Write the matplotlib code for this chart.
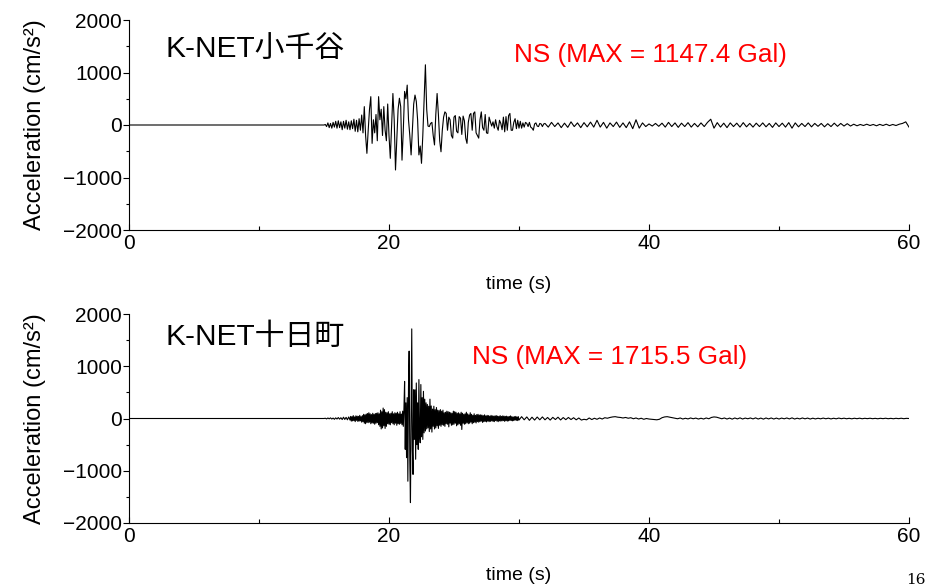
import numpy as np
import matplotlib
matplotlib.use('Agg')
import matplotlib.pyplot as plt
from matplotlib.ticker import MultipleLocator

plt.rcParams['font.family'] = ['Liberation Sans', 'Noto Sans CJK JP']

# ---------------- data ----------------
station_names = ['K-NET小千谷', 'K-NET十日町']
component_labels = ['NS (MAX = 1147.4 Gal)', 'NS (MAX = 1715.5 Gal)']

# K-NET Ojiya, NS acceleration (cm/s^2)
ojiya_main_start, ojiya_main_dt = 15.0, 0.1
ojiya_main = [
    0, 10, -30, 40, -50, 30, -60, 50, -40, 70,
    -60, 80, -50, 60, -90, 70, -60, 90, -80, 60,
    -90, 80, -70, 110, -120, 90, -130, 120, -100, 190,
    -150, 350, -200, -540, -100, 300, 540, -350, 100, -150,
    200, -300, 540, 100, 300, -200, 350, -100, -300, 400,
    -200, -635, 0, 600, 100, -857, -300, 300, 510, 350,
    -670, -100, 640, 500, 760, 100, -200, -570, -100, 400,
    570, 450, 100, -570, -400, -730, -200, 500, 1147, 300,
    -20, -30, 30, 50, -200, -380, 200, 600, 200, -300,
    -510, -100, 150, 250, 220, -100, 150, 100, -200, -250,
    150, 180, -120, -150, 160, 130, -180, 170, 80, -250,
    -350, 50, 190, 220, -100, 220, 250, -150, -200, -250,
    100, 250, -50, -100, 200, -150, -160, 150, 60, -20,
    60, -60, 100, -30, -100, 90, 30, -90, 150, -130,
    160, -100, 180, 220, -100, -100, 50, 120, -70, 90,
    -60, 70, -60, 40, -40, 50, 30, -30, 50, -40,
    -60, -100, 20, 40, -20, -30, 30, 20, -30, 20,
]
ojiya_coda_start, ojiya_coda_dt = 32.0, 0.25
ojiya_coda = [
    30, -40, 50, -30, 40, -50, 35, -45, 60, -30, 40, -50,
    45, -35, 55, -40, 90, -40, 50, -60, 40, -30, 55, -45,
    40, -50, 60, -70, 100, -60, 40, -30, 20, -20, 30, -25,
    35, -40, 50, -30, 40, -45, 35, -30, 45, -40, 30, -35,
    40, -30, 50, 110, -60, 45, -40, 35, -50, 40, -30, 35,
    -40, 45, -35, 30, -40, 35, -30, 40, -35, 30, -45, 40,
    -30, 35, -40, 45, -60, 40, -35, 30, -30, 40, -35, 30,
    -25, 30, -35, 25, -30, 35, -25, 30, -20, 25, -20, 15,
    -15, 10, -10, 15, -10, 10, -15, 12, -10, 15, -12, 10,
    -10, 15, 30, 60, -40,
]

# K-NET Tokamachi, NS acceleration (cm/s^2)
tokamachi_onset_start, tokamachi_onset_dt = 15.0, 0.1
tokamachi_onset = [
    0, 5, -8, 10, -6, 12, -10, 8, -15, 12,
    -10, 18, -12, 15, -20, 25, -18, 22, -25, 30,
]
tokamachi_main_start, tokamachi_main_dt = 17.0, 0.05
tokamachi_main = [
    -30, 40, -50, 35, -45, 55, -40, 30, -60, 50, -35, 45, -55, 40, -50, 60, -45, 35, -70, 55,
    -60, 80, -90, 70, -100, 85, -75, 95, -80, 110, -70, 90, -100, 75, -85, 100, -90, 80, -110, 95,
    -90, 100, -80, 110, -120, 90, -150, 160, -200, 130, -180, 200, -140, 170, -190, 120, -150, 110, -100, 130,
    -110, 90, -120, 100, -80, 130, -100, 90, -120, 110, -90, 100, -130, 120, -100, 90, -110, 130, -95, 85,
    -120, 140, -150, 200, 710, -590, 300, -750, 400, -1200, 600, 1290, -800, -1610, 200, 1715, -600, -1070, 550, -400,
    550, -780, 680, -500, 300, -590, 745, -300, -465, 650, -350, 400, -400, 520, -275, 370, -240, 300, -200, 270,
    -180, 235, -250, 370, -200, 240, -260, 180, -150, 235, -200, 170, -180, 210, -140, 160, -190, 150, -130, 170,
    -150, 140, -120, 160, -130, 110, -150, 120, -100, 140, -110, 130, -160, 120, -90, 110, -130, 100, -120, 140,
    -110, 130, -90, 120, -140, 100, -120, 110, -100, 90, -130, 120, -210, 100, -90, 80, -110, 90, -100, 120,
    -80, 90, -100, 70, -90, 110, -70, 80, -100, 60, -80, 90, -70, 60, -85, 75, -60, 80, -70, 65,
    -60, 70, -50, 65, -75, 55, -60, 70, -55, 50, -65, 60, -50, 55, -60, 45, -55, 60, -45, 50,
    -55, 45, -60, 50, -40, 55, -50, 45, -60, 40, -45, 55, -50, 40, -45, 50, -40, 45, -55, 40,
    -40, 45, -50, 35, -45, 40, -35, 50, -40, 35, -45, 30, -40, 35, -30, 40, -35, 30, -40, 35,
]
tokamachi_coda_start, tokamachi_coda_dt = 30.0, 0.2
tokamachi_coda = [
    -30, 35, -25, 30, -35, 25, -30, 28, -25, 30,
    -25, 20, -30, 22, -20, 25, -28, 18, -22, 20,
    -20, 15, -25, 10, -30, -15, -25, 10, -20, 5,
    -15, 10, -10, 15, 5, 20, 30, 35, 25, 20,
    10, 20, 5, 15, -5, 10, -10, 5, -15, 0,
    -10, -15, -20, -25, -15, 15, 30, 35, 25, 15,
    5, -5, 10, -10, 5, -8, 10, -5, 8, -10,
    5, -10, 10, -5, 20, 30, 25, 10, -5, 10,
    -10, 8, -12, 10, -8, 12, -10, 8, -5, 10,
    -8, 12, -10, 8, -12, 10, -8, 10, -10, 8,
    -10, 8, -6, 10, -8, 12, -10, 6, -8, 10,
    -6, 8, -10, 6, -8, 5, -6, 8, -5, 6,
    -8, 5, -6, 8, -4, 6, -5, 4, -6, 5,
    -4, 6, -5, 4, -3, 5, -4, 3, -5, 4,
    -3, 5, -4, 3, -5, 4, -3, 5, -4, 3,
    0,
]


def build(segments):
    t = [0.0]
    v = [0.0]
    for t0, dt, vals in segments:
        for i, val in enumerate(vals):
            t.append(t0 + i * dt)
            v.append(val)
    return np.array(t), np.array(v)


traces = [
    build([(ojiya_main_start, ojiya_main_dt, ojiya_main),
           (ojiya_coda_start, ojiya_coda_dt, ojiya_coda)]),
    build([(tokamachi_onset_start, tokamachi_onset_dt, tokamachi_onset),
           (tokamachi_main_start, tokamachi_main_dt, tokamachi_main),
           (tokamachi_coda_start, tokamachi_coda_dt, tokamachi_coda)]),
]

# ---------------- figure ----------------
W, H = 941, 588
fig = plt.figure(figsize=(W / 100, H / 100), dpi=100)
axes_px = [(129, 20, 909, 230), (129, 314, 909, 523)]
name_pos = [(2.77, 1430), (2.77, 1568)]
comp_pos = [(29.6, 1330), (26.4, 1185)]
xlabel_y = [-0.22, -0.212]

for k, (x0, y0, x1, y1) in enumerate(axes_px):
    ax = fig.add_axes([x0 / W, 1 - y1 / H, (x1 - x0) / W, (y1 - y0) / H])
    t, v = traces[k]
    ax.plot(t, v, color='black', lw=0.8)
    ax.set_xlim(0, 60)
    ax.set_ylim(-2000, 2000)
    for s in ['top', 'right']:
        ax.spines[s].set_visible(False)
    for s in ['left', 'bottom']:
        ax.spines[s].set_linewidth(0.8)
    ax.xaxis.set_major_locator(MultipleLocator(20))
    ax.xaxis.set_minor_locator(MultipleLocator(10))
    ax.yaxis.set_major_locator(MultipleLocator(1000))
    ax.yaxis.set_minor_locator(MultipleLocator(500))
    ax.tick_params(axis='y', which='major', direction='out', length=4, width=0.8,
                   labelsize=15, pad=1)
    ax.tick_params(axis='y', which='minor', direction='out', length=2, width=0.8)
    ax.tick_params(axis='x', which='major', direction='in', length=4, width=0.8,
                   labelsize=15, pad=3)
    ax.tick_params(axis='x', which='minor', direction='in', length=3, width=0.8)
    ax.set_ylabel('Acceleration (cm/s²)', fontsize=17)
    ax.yaxis.set_label_coords(-0.107, 0.5)
    ax.set_xlabel('time (s)', fontsize=14)
    ax.xaxis.set_label_coords(0.5, xlabel_y[k])
    ax.text(name_pos[k][0], name_pos[k][1], station_names[k], fontsize=21.5,
            ha='left', va='center')
    ax.text(comp_pos[k][0], comp_pos[k][1], component_labels[k], fontsize=18.8,
            color='red', ha='left', va='center')

fig.text(0.973, 0.002, '16', fontsize=11, family='DejaVu Serif', ha='center', va='bottom')

fig.savefig('out.png', dpi=100)
